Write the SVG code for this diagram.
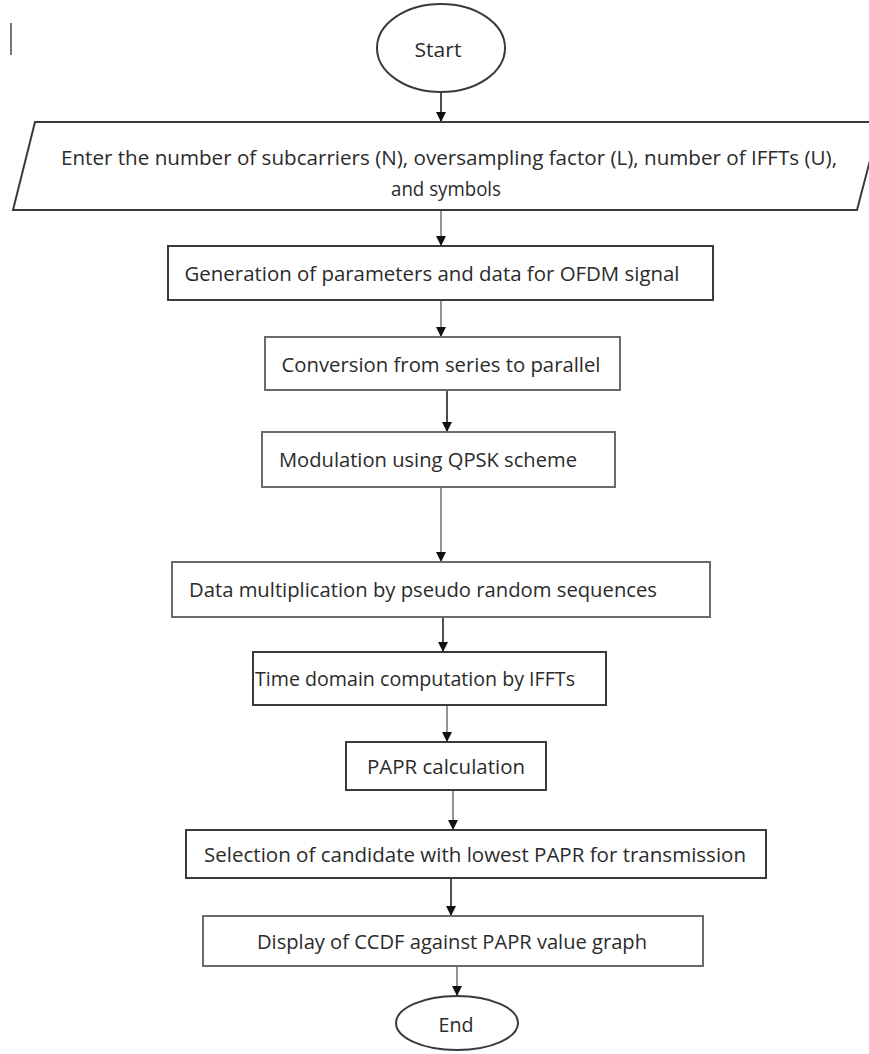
<svg xmlns="http://www.w3.org/2000/svg" width="869" height="1054" viewBox="0 0 869 1054">
<defs>
<style>
.box{fill:#fff;stroke:#3a3a3a;stroke-width:2}
.lbox{fill:#fff;stroke:#6a6a6a;stroke-width:2}
.t{font-family:"Open Sans","Liberation Sans",sans-serif;font-size:20px;fill:#2b2b2b;text-anchor:middle;dominant-baseline:central}
.c{stroke:#222;stroke-width:1.6;fill:none}
.cg{stroke:#888;stroke-width:1.8;fill:none}
</style>
<marker id="ah" viewBox="0 0 10 10" refX="10" refY="5" markerWidth="10" markerHeight="10" markerUnits="userSpaceOnUse" orient="auto">
<path d="M0,0 L10,5 L0,10 Z" fill="#111"/>
</marker>
</defs>
<rect width="869" height="1054" fill="#fff"/>
<line x1="11" y1="23" x2="11" y2="55" stroke="#777" stroke-width="2"/>
<g id="connectors">
<line class="c" x1="441" y1="92" x2="441" y2="122" marker-end="url(#ah)"/>
<line class="cg" x1="441" y1="210" x2="441" y2="246" marker-end="url(#ah)"/>
<line class="cg" x1="441" y1="300" x2="441" y2="337" marker-end="url(#ah)"/>
<line class="c" x1="447" y1="390" x2="447" y2="432" marker-end="url(#ah)"/>
<line class="cg" x1="441" y1="487" x2="441" y2="562" marker-end="url(#ah)"/>
<line class="c" x1="443" y1="617" x2="443" y2="652" marker-end="url(#ah)"/>
<line class="cg" x1="447" y1="705" x2="447" y2="742" marker-end="url(#ah)"/>
<line class="cg" x1="453" y1="790" x2="453" y2="830" marker-end="url(#ah)"/>
<line class="c" x1="451" y1="878" x2="451" y2="916" marker-end="url(#ah)"/>
<line class="cg" x1="457" y1="966" x2="457" y2="996" marker-end="url(#ah)"/>
</g>
<g id="start">
<ellipse class="box" cx="441" cy="48" rx="64" ry="44"/>
<text class="t" x="438" y="49" textLength="47" lengthAdjust="spacingAndGlyphs">Start</text>
</g>
<g id="input">
<polygon class="box" points="35,122 880,122 857,210 13,210"/>
<text class="t" x="449" y="157" textLength="776" lengthAdjust="spacingAndGlyphs">Enter the number of subcarriers (N), oversampling factor (L), number of IFFTs (U),</text>
<text class="t" x="446" y="188" textLength="110" lengthAdjust="spacingAndGlyphs">and symbols</text>
</g>
<g id="generation">
<rect class="box" x="168" y="246" width="545" height="54"/>
<text class="t" x="432" y="273" textLength="495" lengthAdjust="spacingAndGlyphs">Generation of parameters and data for OFDM signal</text>
</g>
<g id="conversion">
<rect class="lbox" x="265" y="337" width="355" height="53"/>
<text class="t" x="441" y="364" textLength="319" lengthAdjust="spacingAndGlyphs">Conversion from series to parallel</text>
</g>
<g id="modulation">
<rect class="lbox" x="262" y="432" width="353" height="55"/>
<text class="t" x="428" y="459" textLength="298" lengthAdjust="spacingAndGlyphs">Modulation using QPSK scheme</text>
</g>
<g id="multiplication">
<rect class="lbox" x="172" y="562" width="538" height="55"/>
<text class="t" x="423" y="589" textLength="468" lengthAdjust="spacingAndGlyphs">Data multiplication by pseudo random sequences</text>
</g>
<g id="timedomain">
<rect class="box" x="253" y="652" width="353" height="53"/>
<text class="t" x="415" y="678" textLength="320" lengthAdjust="spacingAndGlyphs">Time domain computation by IFFTs</text>
</g>
<g id="papr">
<rect class="box" x="346" y="742" width="200" height="48"/>
<text class="t" x="446" y="766" textLength="158" lengthAdjust="spacingAndGlyphs">PAPR calculation</text>
</g>
<g id="selection">
<rect class="box" x="186" y="830" width="580" height="48"/>
<text class="t" x="475" y="854" textLength="542" lengthAdjust="spacingAndGlyphs">Selection of candidate with lowest PAPR for transmission</text>
</g>
<g id="display">
<rect class="lbox" x="203" y="916" width="500" height="50"/>
<text class="t" x="452" y="941" textLength="390" lengthAdjust="spacingAndGlyphs">Display of CCDF against PAPR value graph</text>
</g>
<g id="end">
<ellipse class="box" cx="457" cy="1023" rx="61" ry="27"/>
<text class="t" x="456" y="1024" textLength="35" lengthAdjust="spacingAndGlyphs">End</text>
</g>
</svg>
